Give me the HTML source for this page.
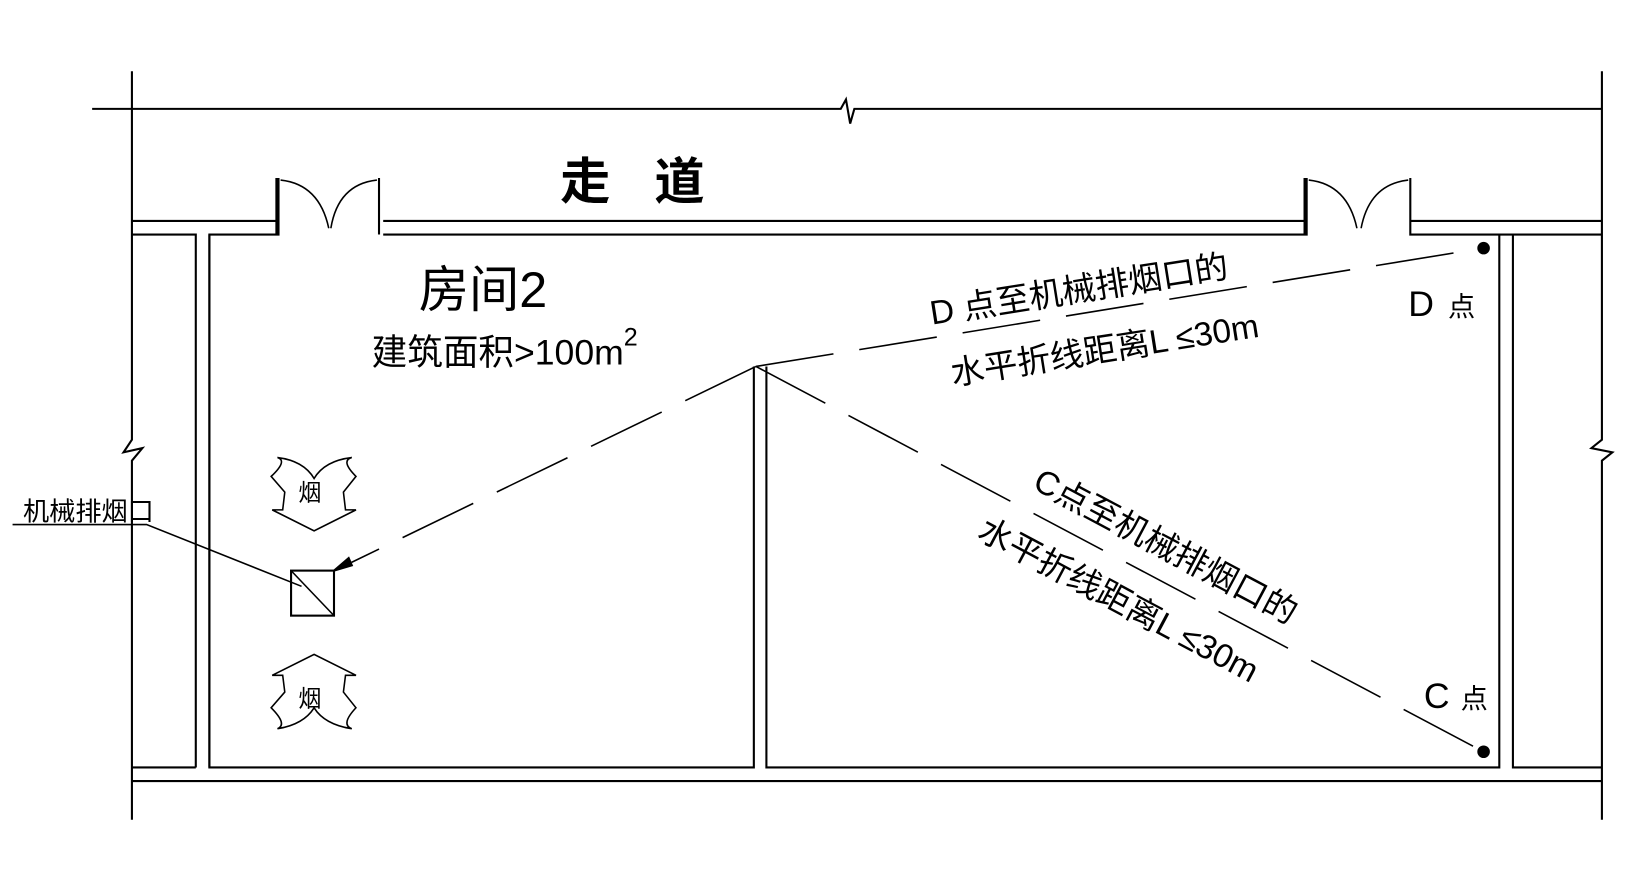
<!DOCTYPE html>
<html><head><meta charset="utf-8"><style>
html,body{margin:0;padding:0;background:#fff;}
svg{display:block;}
text{font-family:"Liberation Sans","Noto Sans CJK SC",sans-serif;fill:#000;}
</style></head><body>
<svg width="1643" height="878" viewBox="0 0 1643 878" xmlns="http://www.w3.org/2000/svg">
<g transform="scale(1.047)" fill="none" stroke="#000" stroke-width="2">
<path d="M126 68 V420 L118 432 L136 428 L126 440 V783"/>
<path d="M1530 68 V420 L1520 428 L1540 432 L1530 440 V783"/>
<path d="M88 104 H803 L808 95 L812 118 L816 104 H1530"/>
<path d="M126 211 H266 M126 224 H187 V733 M200 733 V224 H266 V170 M264 224 V170"/>
<path d="M362 170 V224 M366 211 H1248 M366 224 H1248 V170 M1246 224 V170"/>
<path d="M1347 170 V224 H1530 M1347 211 H1530"/>
<path d="M268 172 Q305 176 314 218 M360 172 Q323 176 316 218" stroke-width="1.5"/>
<path d="M1250 172 Q1287 176 1296 218 M1345 172 Q1308 176 1300 218" stroke-width="1.5"/>
<path d="M200 224 V733 H720 V350"/>
<path d="M732 350 V733 H1432 V224 M1445 224 V733 H1530"/>
<path d="M126 733 H187 M126 746 H1530"/>
<path d="M722 350 L1417 237" stroke-width="1.5" stroke-dasharray="75,25"/>
<path d="M722 350 L1417 718" stroke-width="1.5" stroke-dasharray="75,25"/>
<path d="M722 350 L336 537" stroke-width="1.5" stroke-dasharray="75,25"/>
<path d="M336 537 L319 545" stroke-width="1.5"/>
<polygon points="319,545 333,533 336,540" fill="#000"/>
<circle cx="1417" cy="237" r="5" fill="#000"/>
<circle cx="1417" cy="718" r="5" fill="#000"/>
<rect x="278" y="545" width="41" height="43"/>
<path d="M278 545 L319 588" stroke-width="1.5"/>
<path d="M12 501 H140 L288 560" stroke-width="1.5"/>
<path d="M259 455 Q275 440 265 437 Q290 440 300 457 Q310 440 336 437 Q325 440 340 455 L328 470 L330 487 L340 487 L300 507 L260 487 L270 487 L272 470 Z" stroke-width="1.5"/>
<path d="M259 676 Q275 692 265 696 Q290 692 300 676 Q310 692 336 696 Q325 692 340 676 L328 661 L330 645 L340 645 L300 625 L260 645 L270 645 L272 661 Z" stroke-width="1.5"/>
</g>
<g transform="scale(1.047)">
<text x="535" y="190" font-size="48" font-weight="bold">走</text>
<text x="625" y="190" font-size="48" font-weight="bold">道</text>
<text x="400" y="293" font-size="48">房间2</text>
<text x="355" y="348" font-size="34">建筑面积&gt;100m<tspan dy="-18" font-size="24">2</tspan></text>
<text x="22" y="497" font-size="25">机械排烟口</text>
<text x="285" y="478" font-size="22">烟</text>
<text x="285" y="675" font-size="22">烟</text>
<text x="1345" y="302" font-size="34">D</text><text x="1383" y="302" font-size="26">点</text>
<text x="1360" y="676" font-size="34">C</text><text x="1395" y="676" font-size="26">点</text>
<text transform="translate(890 310) rotate(-9)" font-size="32">D 点至机械排烟口的</text>
<text transform="translate(910 368) rotate(-9)" font-size="32">水平折线距离L ≤30m</text>
<text transform="translate(985 466) rotate(28)" font-size="32">C点至机械排烟口的</text>
<text transform="translate(932 513) rotate(28)" font-size="32">水平折线距离L ≤30m</text>
</g>
</svg>
</body></html>
